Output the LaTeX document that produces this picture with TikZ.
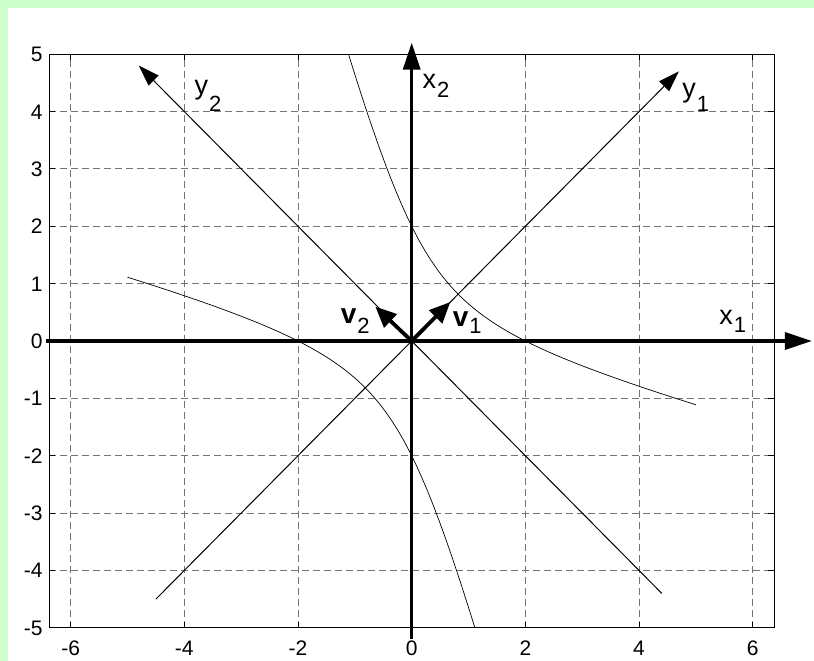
\documentclass[tikz,border=0pt]{standalone}
\usepackage{fontspec}
\setmainfont{Liberation Sans}
\usepackage{tikz}
\usetikzlibrary{arrows.meta}
\usepackage{xcolor}
\definecolor{panelgreen}{RGB}{204,255,204}
\newcommand{\axlab}[3]{#1\kern1pt\raisebox{-#3}{\mdseries\fontsize{22pt}{22pt}\selectfont #2}}

\tikzset{
  gridline/.style={black!55, line width=0.8pt, dash pattern=on 7pt off 4pt},
  tickmark/.style={line width=0.8pt},
  ticklab/.style={font=\fontsize{21pt}{21pt}\selectfont, inner sep=0pt},
  axlabel/.style={font=\fontsize{27pt}{27pt}\selectfont, inner sep=0pt, anchor=base west},
  veclabel/.style={font=\fontsize{28pt}{28pt}\selectfont\bfseries, inner sep=0pt, anchor=base west},
  mainaxis/.style={line width=3.5pt, -{Triangle[length=27pt,width=17pt]}},
  eigaxis/.style={line width=1pt, -{Triangle[length=21pt,width=14pt]}},
  eigvec/.style={line width=3.8pt, -{Triangle[length=21pt,width=18pt]}},
  levelcurve/.style={line width=0.7pt}
}

\begin{document}
\begin{tikzpicture}[x=56.85pt, y=57.37pt]
  \useasboundingbox (-7.242,-5.578) rectangle (7.077,5.944);
  \fill[panelgreen] (-7.242,-5.578) rectangle (7.077,5.944);
  \fill[white] (-7.101,-5.578) rectangle (7.077,5.804);
  \foreach \x [count=\i] in {-6,-4,...,6} {
    \draw[gridline] (\x,-5) -- (\x,5);
    \draw[tickmark] (\x,-5) -- ++(0,6pt) (\x,5) -- ++(0,-6pt);
    \node[ticklab, anchor=base] (xt\i) at (\x,-5.49) {\x};
  }
  \foreach \y in {-4,...,4} {
    \draw[gridline] (-6.38,\y) -- (6.38,\y);
    \draw[tickmark] (-6.38,\y) -- ++(6pt,0) (6.38,\y) -- ++(-6pt,0);
  }
  \foreach \y [count=\i] in {-5,...,5} {
    \node[ticklab, anchor=base east] (yt\i) at (-6.49,\y-0.131) {\y};
  }
  \draw[line width=0.8pt] (-6.38,-5) rectangle (6.38,5);
  \draw[levelcurve] plot[domain=-1.11:5, samples=60] (\x,{-2*\x+sqrt(3*\x*\x+4)});
  \draw[levelcurve] plot[domain=-5:1.11, samples=60] (\x,{-2*\x-sqrt(3*\x*\x+4)});
  \coordinate (O) at (0,0);
  \coordinate (y1s) at (-4.5,-4.5);
  \coordinate (y1e) at (4.7,4.7);
  \coordinate (y2s) at (4.4,-4.4);
  \coordinate (y2e) at (-4.8,4.8);
  \coordinate (x1s) at (-6.44,0);
  \coordinate (x1e) at (7.04,0);
  \coordinate (x2s) at (0,-5.2);
  \coordinate (x2e) at (0,5.2);
  \coordinate (v1) at (0.68,0.68);
  \coordinate (v2) at (-0.64,0.6);
  \draw[eigaxis] (y1s) -- (y1e);
  \draw[eigaxis] (y2s) -- (y2e);
  \draw[mainaxis] (x1s) -- (x1e);
  \draw[mainaxis] (x2s) -- (x2e);
  \draw[eigvec] (O) -- (v1);
  \draw[eigvec] (O) -- (v2);
  \node[axlabel] (x1lab) at (5.41,0.279) {\axlab{x}{1}{8pt}};
  \node[axlabel] (x2lab) at (0.19,4.41) {\axlab{x}{2}{9pt}};
  \node[axlabel] (y1lab) at (4.76,4.248) {\axlab{y}{1}{14pt}};
  \node[axlabel] (y2lab) at (-3.82,4.305) {\axlab{y}{2}{17pt}};
  \node[veclabel] (v1lab) at (0.72,0.249) {\axlab{v}{1}{7pt}};
  \node[veclabel] (v2lab) at (-1.25,0.309) {\axlab{v}{2}{10pt}};
\end{tikzpicture}
\end{document}
